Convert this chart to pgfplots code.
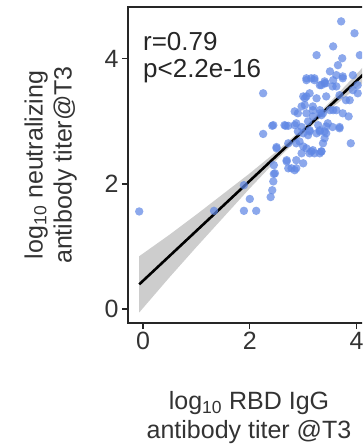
\documentclass[border=0pt]{standalone}
\usepackage{pgfplots}
\pgfplotsset{compat=1.18}
\usepackage{fontspec}
\setmainfont{Liberation Sans}
\definecolor{ptblue}{RGB}{95,135,228}
\definecolor{bandgray}{RGB}{200,200,200}
\begin{document}
\begin{tikzpicture}[x=1pt,y=1pt]
\useasboundingbox (0,0) rectangle (362,445);
\clip (0,0) rectangle (362,445);
\begin{axis}[
  at={(128pt,122pt)}, anchor=south west,
  scale only axis, width=242pt, height=316pt,
  xmin=-0.28, xmax=4.25, ymin=-0.224, ymax=4.83,
  xtick={0,2,4}, ytick={0,2,4},
  tick align=outside, tick pos=left,
  major tick length=6pt,
  axis line style={line width=1.6pt, black!85},
  tick style={line width=1.2pt, black!85},
  /pgf/number format/assume math mode=true,
  tick label style={font=\fontsize{25}{25}\selectfont, text=black!80},
  xlabel={log\textsubscript{10} RBD IgG\\antibody titer @T3},
  ylabel={log\textsubscript{10} neutralizing\\antibody titer@T3},
  label style={font=\fontsize{25}{29}\selectfont, align=center, text=black!80},
  xlabel style={at={(axis description cs:0.5,-0.30)}, anchor=center},
  ylabel style={at={(axis description cs:-0.32,0.5)}, anchor=center},
]
\addplot[fill=bandgray, draw=none, fill opacity=0.9] coordinates {
(-0.07,0.844) (0.5,1.19) (1.0,1.51) (1.5,1.84) (2.0,2.17) (2.5,2.52) (3.0,2.895) (3.5,3.31) (4.0,3.76) (4.5,4.22)
(4.5,3.88) (4.0,3.54) (3.5,3.19) (3.0,2.805) (2.5,2.38) (2.0,1.93) (1.5,1.46) (1.0,0.99) (0.5,0.51) (-0.07,-0.056)
} -- cycle;
\addplot[only marks, mark=*, mark size=4.2pt, draw=none, fill=ptblue, mark options={draw=none, fill=ptblue, fill opacity=0.72, draw opacity=0}] coordinates {
(-0.07,1.56) (1.33,1.57) (1.89,1.57) (2.12,1.57) (2.00,1.76) (1.89,1.98)
(2.39,1.79) (2.42,1.90) (2.44,2.04) (2.45,2.16) (2.45,2.30) (2.69,2.36)
(2.78,2.25) (2.84,2.22) (2.25,3.45) (2.25,2.80) (2.42,2.93) (2.50,2.59)
(2.67,2.93) (2.72,2.93) (2.84,2.94) (2.90,3.13) (2.97,3.24) (3.03,3.37)
(3.06,3.66) (3.15,3.69) (3.21,3.66) (3.25,4.06) (3.34,3.58) (3.40,3.64)
(3.43,3.40) (3.31,3.18) (3.25,2.81) (3.31,2.49) (3.15,2.52) (2.97,2.49)
(2.87,2.65) (3.00,2.81) (3.12,2.86) (3.18,3.08) (3.37,3.13) (3.40,2.84)
(3.50,3.80) (3.56,4.20) (3.65,3.90) (3.62,3.56) (3.68,3.42) (3.74,3.72)
(3.71,4.60) (3.87,3.34) (3.89,2.65) (3.93,3.74) (3.96,4.41) (4.06,4.06)
(4.02,3.58) (3.46,2.97) (3.56,3.18) (3.68,2.91) (3.73,4.01) (3.62,3.74)
(3.74,3.69) (3.21,3.69) (3.31,3.58) (3.42,3.61) (3.55,3.56) (3.93,3.50)
(4.02,3.45) (3.06,3.40) (3.80,3.34) (3.62,3.18) (3.74,3.13) (3.31,3.13)
(3.18,3.24) (3.06,3.13) (3.55,2.91) (3.43,2.81) (3.31,2.86) (3.12,2.84)
(2.97,2.91) (3.85,3.08) (3.68,2.89) (3.37,2.65) (3.21,2.49) (3.34,2.52)
(3.00,2.60) (3.12,2.49) (3.06,3.69) (3.40,3.61) (3.56,3.66) (3.00,3.40)
(3.12,3.45) (3.25,3.37) (2.84,3.16) (3.03,3.26) (3.18,3.18) (3.34,3.10)
(3.50,3.18) (2.44,2.94) (2.65,2.94) (2.87,2.97) (3.09,3.00) (3.28,2.94)
(3.43,2.92) (2.90,2.84) (3.09,2.78) (3.31,2.84) (3.40,2.73) (2.50,2.57)
(2.72,2.65) (2.93,2.68) (3.06,2.57) (3.18,2.54) (3.34,2.52) (2.69,2.38)
(2.87,2.38) (3.00,2.33) (2.72,2.25) (2.87,2.25) (2.47,2.17)
};
\addplot[black, line width=2.6pt] coordinates {(-0.07,0.394) (4.5,4.05)};
\node[anchor=base west, inner sep=0pt, font=\fontsize{26}{26}\selectfont, text=black!85] at (axis cs:0,4.14) {r=0.79};
\node[anchor=base west, inner sep=0pt, font=\fontsize{26}{26}\selectfont, text=black!85] at (axis cs:0,3.70) {p<2.2e-16};
\end{axis}
\end{tikzpicture}
\end{document}
